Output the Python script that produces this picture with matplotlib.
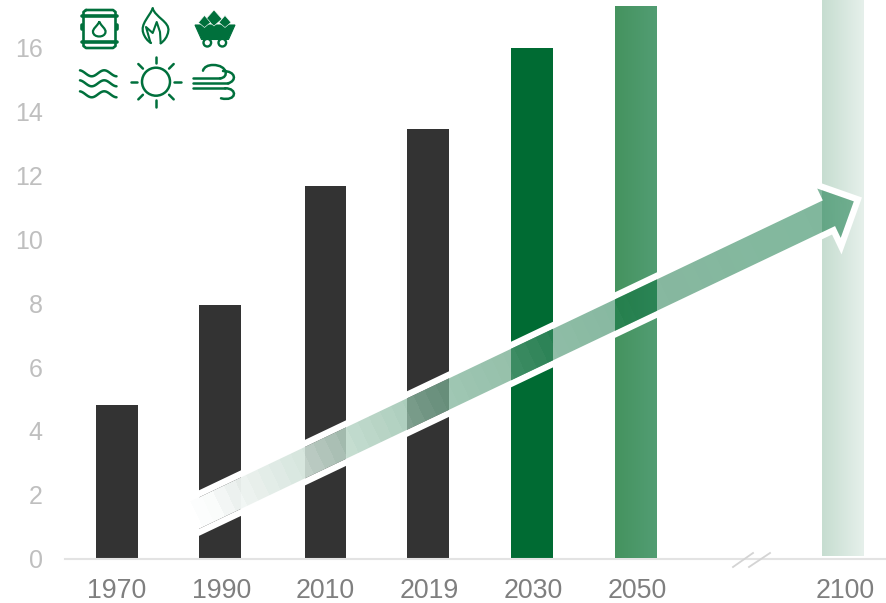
import matplotlib
matplotlib.use("Agg")
import matplotlib.pyplot as plt
import numpy as np
from matplotlib.path import Path
from matplotlib.patches import PathPatch, Circle, Polygon

plt.rcParams['font.family'] = ['Liberation Sans', 'DejaVu Sans']

# chart values
years = ['1970', '1990', '2010', '2019', '2030', '2050', '2100']
positions = [0, 0.99, 2.01, 3, 4, 5, 6.99]
label_positions = [0, 1.01, 2.01, 3.01, 4.01, 5.01, 7.02]
values = [4.8, 7.95, 11.67, 13.45, 16.0, 17.32, 19.0]
bar_colors = ['#333333', '#333333', '#333333', '#333333', '#006B33', '#45935F', '#C9DFD3']
y_ticks = [0, 2, 4, 6, 8, 10, 12, 14, 16]

# trend arrow: start and tip in chart units
arrow_x = [0.66, 7.10]
arrow_y = [1.22, 11.19]

GREEN = '#00703C'
W, H = 887, 603

fig = plt.figure(figsize=(W / 100, H / 100), dpi=100)
ax = fig.add_axes([65 / W, (H - 558.5) / H, (W - 65) / W, 558.5 / H])
bars = ax.bar(positions, values, width=0.402, color=bar_colors, zorder=2)
bars[-1].set_y(0.07)

# 2050 and 2100 columns fade slightly to the right
for bar, left, right in [(bars[5], '#45935F', '#529D73'), (bars[6], '#C6DDD0', '#E6F0EB')]:
    c0 = np.array(matplotlib.colors.to_rgb(left))
    c1 = np.array(matplotlib.colors.to_rgb(right))
    grad = np.linspace(0, 1, 64)[None, :, None] * (c1 - c0) + c0
    im = ax.imshow(grad, extent=[bar.get_x(), bar.get_x() + bar.get_width(), 0, bar.get_height() + bar.get_y()],
                   aspect='auto', zorder=3, interpolation='bilinear')
    im.set_clip_path(bar)
ax.set_xlim(-0.5, 7.42)
ax.set_ylim(0, 17.5)

ax.set_xticks(label_positions)
ax.set_xticklabels(years, fontsize=19.3, color='#7F7F7F')
ax.set_yticks(y_ticks)
ax.set_yticklabels([str(t) for t in y_ticks], fontsize=18, color='#BFBFBF')
ax.tick_params(axis='x', length=0, pad=14.4)
ax.tick_params(axis='y', length=0, pad=16)
for side in ['top', 'left', 'right']:
    ax.spines[side].set_visible(False)
ax.spines['bottom'].set_color('#E3E3E3')
ax.spines['bottom'].set_linewidth(1.5)

# overlay in pixel coordinates for arrow, icons, axis break
ov = fig.add_axes([0, 0, 1, 1], facecolor='none')
ov.set_axis_off()


def to_px(x, y):
    px, py = ax.transData.transform((x, y))
    return np.array([px, H - py])


tail = to_px(arrow_x[0], arrow_y[0])
tip = to_px(arrow_x[1], arrow_y[1])
u = (tip - tail) / np.linalg.norm(tip - tail)
n = np.array([-u[1], u[0]])
neck = tip - 27.5 * u
arrow_pts = np.array([
    tail - 14.2 * n, neck - 14.2 * n, neck - 27.3 * n, tip,
    neck + 27.3 * n, neck + 14.2 * n, tail + 14.2 * n,
])

# gradient along the arrow: colour as seen on white, plus opacity
xx, yy = np.meshgrid(np.arange(W) + 0.5, np.arange(H) + 0.5)
t = ((xx - tail[0]) * u[0] + (yy - tail[1]) * u[1]) / np.linalg.norm(tip - tail)
t = np.clip(t, 0, 1)
t = np.floor(t * 60) / 60  # the reference shows faint bands near the tail
stops = [0, 0.04, 0.1, 0.2, 0.36, 0.51, 0.66, 1]
alpha = np.interp(t, stops, [1.0, 1.0, 0.96, 0.86, 0.74, 0.64, 0.47, 0.5])
on_white = [
    [255, 250, 232, 207, 163, 146, 133, 128],
    [255, 252, 240, 226, 201, 190, 184, 184],
    [255, 251, 236, 216, 182, 168, 160, 157],
]
rgba = np.zeros((H, W, 4))
for ch in range(3):
    seen = np.interp(t, stops, on_white[ch]) / 255
    rgba[..., ch] = np.clip((seen - (1 - alpha)) / alpha, 0, 1)
rgba[..., 3] = alpha

# white halo only outside the arrow, bars show through the fill
poly = Path(np.vstack([arrow_pts, arrow_pts[0]]), closed=True)
area = np.sum(arrow_pts[:, 0] * np.roll(arrow_pts[:, 1], -1) - np.roll(arrow_pts[:, 0], -1) * arrow_pts[:, 1])
outer = [[-10, -10], [W + 10, -10], [W + 10, H + 10], [-10, H + 10]]
if area > 0:
    outer = outer[::-1]
hole = Path.make_compound_path(Path(outer + outer[:1], closed=True), poly)
halo = Polygon(arrow_pts, closed=True, fill=False, edgecolor='white', linewidth=9.2, joinstyle='miter', zorder=4)
ov.add_patch(halo)
halo.set_clip_path(hole, ov.transData)
fill = Polygon(arrow_pts, closed=True, facecolor='none', edgecolor='none', zorder=5)
ov.add_patch(fill)
img = ov.imshow(rgba, extent=[0, W, H, 0], aspect='auto', zorder=5, interpolation='nearest')
img.set_clip_path(fill)
ov.set_xlim(0, W)
ov.set_ylim(H, 0)

# axis break marks
for x0, x1 in [(733, 753), (749, 770)]:
    ov.plot([x0, x1], [567, 553], color='#D4D4D4', lw=1.3, zorder=6)


# icons, drawn in pixel coordinates
def stroke(xs, ys, lw=1.7):
    ov.plot(xs, ys, color=GREEN, lw=lw, solid_capstyle='round', solid_joinstyle='round', zorder=7)


def curve(verts, lw=1.7, fc='none'):
    codes = [Path.MOVETO] + [Path.CURVE4] * (len(verts) - 1)
    ov.add_patch(PathPatch(Path(verts, codes), fc=fc, ec=GREEN, lw=lw, zorder=7, capstyle='round'))


# barrel
stroke([86, 113, 115.5, 115.5, 113, 86, 83.5, 83.5, 86], [10, 10, 12, 46, 48, 48, 46, 12, 10], 1.9)
stroke([82, 117], [15.5, 15.5], 2.6)
stroke([82, 117], [41.5, 41.5], 2.6)
stroke([82, 82], [25, 29], 2.6)
stroke([117, 117], [25, 29], 2.6)
curve([(99.3, 22), (97, 26), (92.5, 29), (93, 32), (93.5, 38), (105, 38), (105.5, 32), (106, 29), (101.5, 26), (99.3, 22)], 1.6)

# flame
curve([(152.7, 8.3), (150, 16), (140, 24), (143.3, 33), (144.5, 37), (147.5, 41), (151, 43)], 1.6)
curve([(152.7, 8.3), (155, 17), (170, 22), (168.3, 31), (167.5, 37), (164, 41), (160.7, 43.3)], 1.6)
stroke([150.5, 146, 152.7, 156.7, 160, 160.7], [42.7, 27, 33, 22, 32, 43.3], 1.5)

# coal cart
ov.add_patch(Polygon([(195, 25), (235, 25), (228.5, 39.5), (201.5, 39.5)], closed=True, fc=GREEN, ec=GREEN, lw=0.8, zorder=7))
for cx, cy, r in [(214, 18, 8), (204.5, 21.5, 6), (225, 21.5, 6)]:
    ov.add_patch(Polygon([(cx - r, cy + 1), (cx, cy - r), (cx + r, cy + 1), (cx, cy + r)], closed=True, fc=GREEN, ec='white', lw=0.4, zorder=7))
for cx in [207.3, 222.3]:
    ov.add_patch(Circle((cx, 42.7), 3.8, fc='white', ec=GREEN, lw=1.7, zorder=8))

# waves
wave_x = np.linspace(80, 116.5, 50)
for cy in [73.3, 83.3, 94.3]:
    stroke(wave_x, cy + 3.0 * np.sin((wave_x - 80) / 25 * 2 * np.pi - 1.37), 1.8)

# sun
ov.add_patch(Circle((156, 81.7), 14, fc='none', ec=GREEN, lw=1.8, zorder=7))
for ang in np.arange(0, 360, 45):
    dx, dy = np.cos(np.radians(ang)), np.sin(np.radians(ang))
    stroke([156 + 18.5 * dx, 156 + 25 * dx], [81.7 + 18.5 * dy, 81.7 + 25 * dy], 1.8)

# wind
stroke([193.5, 220], [78.3, 78.3], 1.8)
stroke([193.5, 228], [83.3, 83.3], 1.8)
stroke([193.5, 225], [88.3, 88.3], 1.8)
curve([(220, 78.3), (229, 78), (228, 65), (213, 65), (208, 65), (204, 67), (203, 70.7)], 1.8)
curve([(228, 83.3), (237, 81), (236, 71), (223, 71)], 1.8)
curve([(225, 88.3), (238, 88), (237, 102), (221, 98.3)], 1.8)

fig.savefig('out.png', dpi=100)
